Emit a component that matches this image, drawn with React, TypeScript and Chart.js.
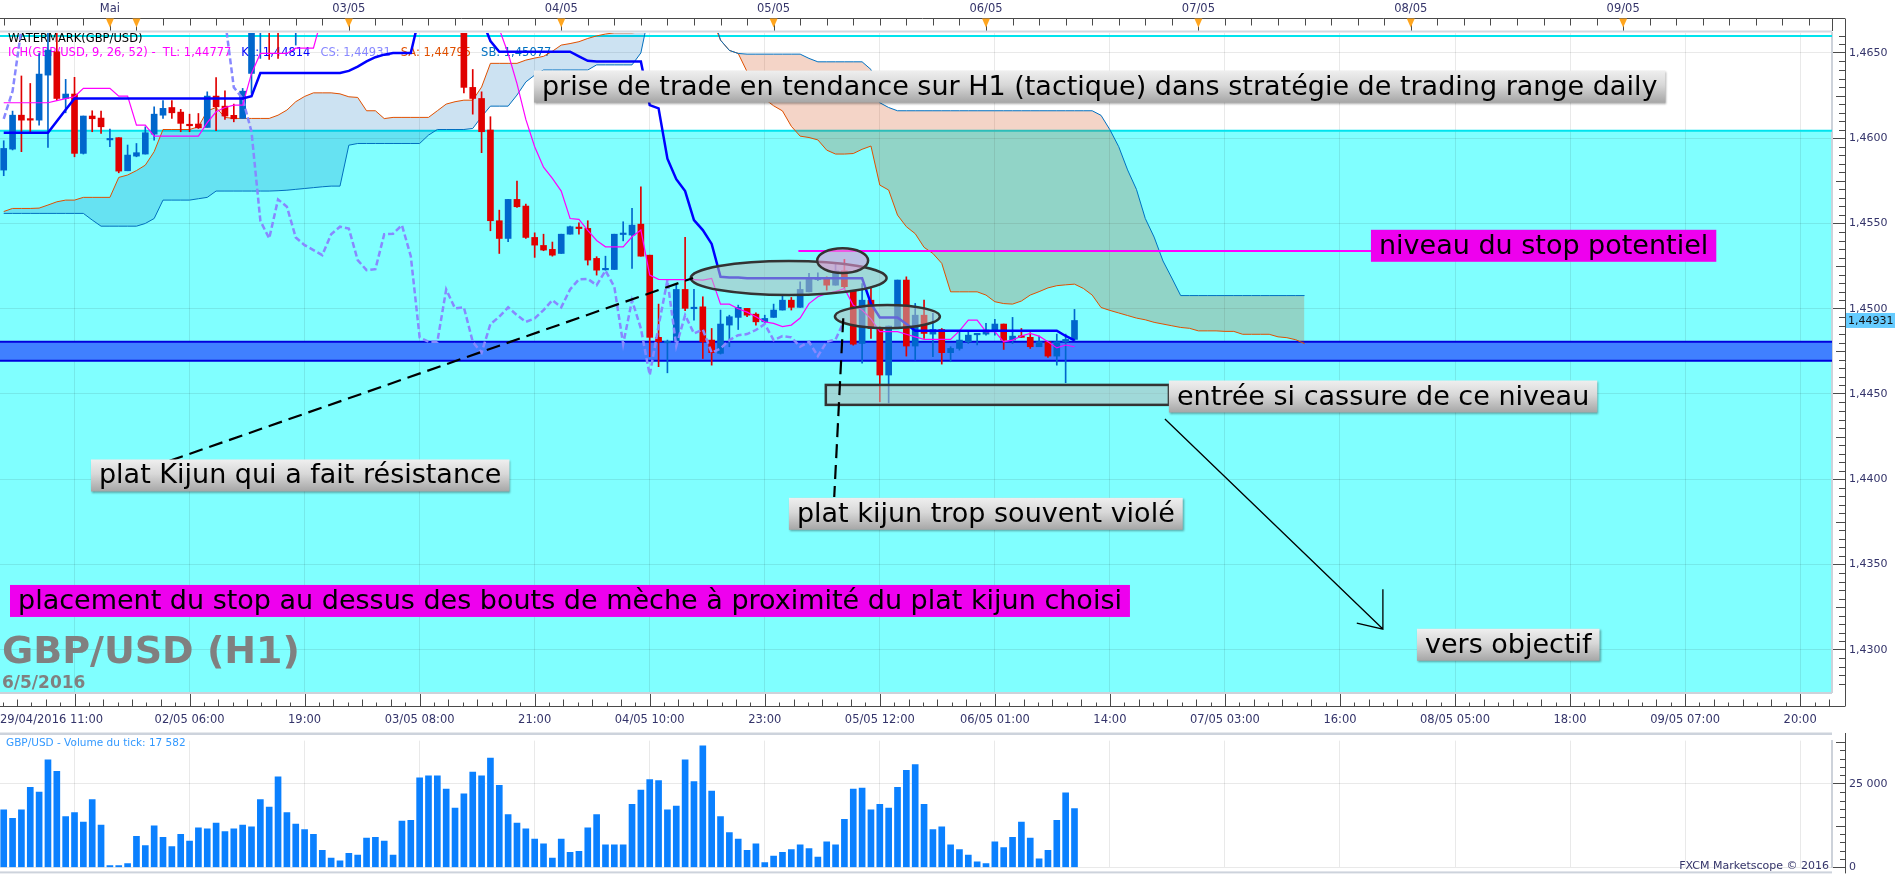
import React, { useEffect, useRef } from "react";
import { Chart, registerables } from "chart.js";

Chart.register(...registerables);

// ---------------- DATA (hourly candles, index 0 = first visible candle) ----------------
const candleOpen = [
  1.45813, 1.45936, 1.46135, 1.46110, 1.46106, 1.46370, 1.46507, 1.46233, 1.46259, 1.45911,
  1.46130, 1.46118, 1.45990, 1.46003, 1.45809, 1.45895, 1.45907, 1.46024, 1.46135, 1.46180,
  1.46153, 1.46077, 1.46083, 1.46063, 1.46247, 1.46188, 1.46134, 1.46116, 1.46380, 1.46640,
  1.46740, 1.46690, 1.46670, 1.46720, 1.46800, 1.46850, 1.46820, 1.46900, 1.46880, 1.46950,
  1.46920, 1.46980, 1.46940, 1.46900, 1.46960, 1.46920, 1.46870, 1.46900, 1.46850, 1.46820,
  1.46790, 1.46760, 1.46700, 1.46298, 1.46233, 1.46048, 1.45516, 1.45412, 1.45641, 1.45602,
  1.45418, 1.45371, 1.45348, 1.45324, 1.45437, 1.45473, 1.45471, 1.45295, 1.45228, 1.45230,
  1.45435, 1.45432, 1.45496, 1.45314, 1.44832, 1.44800, 1.44812, 1.45113, 1.45000, 1.45011,
  1.44816, 1.44738, 1.44904, 1.44949, 1.45002, 1.44968, 1.44923, 1.44949, 1.44992, 1.45050,
  1.45008, 1.45099, 1.45170, 1.45183, 1.45138, 1.45223, 1.45105, 1.44796, 1.45050, 1.44890,
  1.44611, 1.44890, 1.45168, 1.44781, 1.44962, 1.44851, 1.44878, 1.44742, 1.44767, 1.44806,
  1.44847, 1.44851, 1.44875, 1.44910, 1.44816, 1.44839, 1.44832, 1.44777, 1.44806, 1.44722,
  1.44806, 1.44820,
];
const candleHigh = [
  1.45985, 1.46159, 1.46365, 1.46321, 1.46497, 1.46680, 1.46680, 1.46345, 1.46357, 1.46130,
  1.46161, 1.46159, 1.46053, 1.46003, 1.45960, 1.45969, 1.46067, 1.46184, 1.46220, 1.46220,
  1.46169, 1.46141, 1.46145, 1.46272, 1.46356, 1.46278, 1.46200, 1.46292, 1.46700, 1.46780,
  1.46800, 1.46760, 1.46780, 1.46850, 1.46900, 1.46920, 1.46950, 1.46960, 1.47000, 1.47020,
  1.47050, 1.47030, 1.46980, 1.47000, 1.47010, 1.46950, 1.46940, 1.46930, 1.46880, 1.46860,
  1.46830, 1.46800, 1.46720, 1.46403, 1.46272, 1.46126, 1.45578, 1.45641, 1.45748, 1.45613,
  1.45445, 1.45437, 1.45391, 1.45437, 1.45484, 1.45504, 1.45516, 1.45305, 1.45308, 1.45437,
  1.45510, 1.45588, 1.45715, 1.45314, 1.45027, 1.44816, 1.45144, 1.45418, 1.45113, 1.45070,
  1.44884, 1.44992, 1.44962, 1.45021, 1.45002, 1.44976, 1.44962, 1.45027, 1.45080, 1.45066,
  1.45158, 1.45207, 1.45211, 1.45187, 1.45266, 1.45289, 1.45105, 1.45148, 1.45129, 1.44894,
  1.44898, 1.45168, 1.45187, 1.45031, 1.45050, 1.44973, 1.44884, 1.44777, 1.44865, 1.44865,
  1.44855, 1.44914, 1.44937, 1.44910, 1.44949, 1.44884, 1.44859, 1.44839, 1.44806, 1.44851,
  1.44851, 1.44996,
];
const candleLow = [
  1.45780, 1.45931, 1.45921, 1.46038, 1.46077, 1.45946, 1.46220, 1.46149, 1.45891, 1.45907,
  1.46038, 1.46028, 1.45950, 1.45797, 1.45809, 1.45891, 1.45907, 1.45989, 1.46116, 1.46116,
  1.46038, 1.46038, 1.46057, 1.46063, 1.46044, 1.46110, 1.46096, 1.46116, 1.46263, 1.46468,
  1.46462, 1.46468, 1.46640, 1.46546, 1.46760, 1.46780, 1.46800, 1.46840, 1.46850, 1.46890,
  1.46900, 1.46900, 1.46850, 1.46870, 1.46880, 1.46830, 1.46840, 1.46800, 1.46780, 1.46750,
  1.46720, 1.46660, 1.46266, 1.46141, 1.45915, 1.45457, 1.45324, 1.45393, 1.45594, 1.45412,
  1.45301, 1.45340, 1.45308, 1.45324, 1.45437, 1.45437, 1.45256, 1.45197, 1.45226, 1.45230,
  1.45398, 1.45236, 1.45308, 1.44718, 1.44660, 1.44624, 1.44806, 1.44988, 1.44933, 1.44708,
  1.44669, 1.44734, 1.44777, 1.44878, 1.44953, 1.44904, 1.44913, 1.44949, 1.44992, 1.44992,
  1.45008, 1.45099, 1.45164, 1.45109, 1.45138, 1.45119, 1.44786, 1.44680, 1.44826, 1.44454,
  1.44448, 1.44890, 1.44722, 1.44699, 1.44826, 1.44718, 1.44675, 1.44689, 1.44757, 1.44796,
  1.44787, 1.44845, 1.44845, 1.44761, 1.44796, 1.44832, 1.44767, 1.44777, 1.44714, 1.44669,
  1.44566, 1.44812,
];
const candleClose = [
  1.45940, 1.46135, 1.46106, 1.46106, 1.46376, 1.46517, 1.46233, 1.46259, 1.45911, 1.46130,
  1.46114, 1.46067, 1.45997, 1.45807, 1.45901, 1.45915, 1.46032, 1.46141, 1.46175, 1.46149,
  1.46087, 1.46073, 1.46061, 1.46247, 1.46184, 1.46130, 1.46114, 1.46276, 1.46640, 1.46740,
  1.46690, 1.46670, 1.46720, 1.46800, 1.46850, 1.46820, 1.46900, 1.46880, 1.46950, 1.46920,
  1.46980, 1.46940, 1.46900, 1.46960, 1.46920, 1.46870, 1.46900, 1.46850, 1.46820, 1.46790,
  1.46760, 1.46700, 1.46298, 1.46233, 1.46038, 1.45516, 1.45412, 1.45641, 1.45598, 1.45418,
  1.45373, 1.45344, 1.45314, 1.45437, 1.45481, 1.45470, 1.45285, 1.45226, 1.45232, 1.45437,
  1.45440, 1.45490, 1.45308, 1.44832, 1.44806, 1.44806, 1.45113, 1.45002, 1.45008, 1.44806,
  1.44742, 1.44910, 1.44953, 1.45008, 1.44962, 1.44923, 1.44943, 1.44992, 1.45050, 1.45008,
  1.45113, 1.45172, 1.45175, 1.45138, 1.45223, 1.45129, 1.44792, 1.45050, 1.44884, 1.44611,
  1.44898, 1.45168, 1.44781, 1.44962, 1.44855, 1.44878, 1.44742, 1.44767, 1.44816, 1.44845,
  1.44851, 1.44875, 1.44910, 1.44816, 1.44839, 1.44832, 1.44777, 1.44806, 1.44722, 1.44806,
  1.44820, 1.44931,
];
const tickVolume = [
  17200, 14660, 17200, 23970, 22560, 32150, 28760, 15230, 16360, 13540,
  20300, 12690, 560, 560, 1130, 9300, 6490, 12410, 9020, 6200,
  9870, 7900, 11840, 11560, 13250, 10720, 11560, 12690, 12130, 20300,
  18050, 27070, 16360, 12970, 11280, 9870, 5080, 2820, 1970, 4230,
  3670, 8740, 9020, 7900, 3670, 13820, 14100, 26790, 27350, 27350,
  23400, 17770, 22000, 28480, 27350, 32710, 24530, 15790, 13250, 11560,
  8460, 7050, 2820, 8460, 4510, 4790, 11840, 15790, 6770, 6770,
  6770, 18890, 23120, 26230, 25940, 17200, 18330, 32150, 25660, 36380,
  22840, 15230, 10430, 8460, 5080, 7050, 1410, 3380, 4510, 5360,
  6770, 5640, 3100, 7610, 6770, 14380, 23400, 23690, 17200, 18890,
  17770, 23970, 29050, 30740, 18890, 11280, 12130, 6770, 5360, 3670,
  1690, 1130, 7610, 5920, 9020, 13540, 8740, 2540, 5080, 14100,
  22280, 17582,
];
const tenkanSen = [
  1.46208, 1.46208, 1.46208, 1.46208, 1.46208, 1.46208, 1.46220, 1.46232, 1.46243, 1.46292,
  1.46292, 1.46292, 1.46292, 1.46247, 1.46247, 1.46077, 1.46077, 1.46012, 1.46012, 1.46012,
  1.46012, 1.46012, 1.46012, 1.46091, 1.46155, 1.46180, 1.46194, 1.46194, 1.46380, 1.46497,
  1.46497, 1.46497, 1.46497, 1.46528, 1.46528, 1.46528, 1.46720, 1.46720, 1.46720, 1.46720,
  1.46720, 1.46720, 1.46720, 1.46720, 1.46720, 1.46720, 1.46720, 1.46720, 1.46720, 1.46720,
  1.46720, 1.46720, 1.46720, 1.46720, 1.46720, 1.46720, 1.46640, 1.46497, 1.46320, 1.46110,
  1.45950, 1.45830, 1.45764, 1.45690, 1.45529, 1.45524, 1.45460, 1.45400, 1.45363, 1.45363,
  1.45363, 1.45422, 1.45461, 1.45197, 1.45172, 1.45170, 1.45170, 1.45170, 1.45170, 1.45168,
  1.45178, 1.45027, 1.45027, 1.45000, 1.44980, 1.44953, 1.44923, 1.44914, 1.44895, 1.44904,
  1.44945, 1.45030, 1.45070, 1.45090, 1.45100, 1.45119, 1.45020, 1.44992, 1.44940, 1.44865,
  1.44865, 1.44865, 1.44850, 1.44835, 1.44820, 1.44820, 1.44820, 1.44820, 1.44870, 1.44933,
  1.44933, 1.44865, 1.44865, 1.44806, 1.44816, 1.44840, 1.44855, 1.44839, 1.44806, 1.44770,
  1.44787, 1.44777,
];
const kijunSen = [
  1.46032, 1.46032, 1.46032, 1.46032, 1.46032, 1.46032, 1.46100, 1.46167, 1.46233, 1.46233,
  1.46233, 1.46233, 1.46233, 1.46233, 1.46233, 1.46233, 1.46233, 1.46233, 1.46233, 1.46233,
  1.46233, 1.46233, 1.46233, 1.46233, 1.46233, 1.46233, 1.46233, 1.46233, 1.46247, 1.46382,
  1.46382, 1.46382, 1.46382, 1.46382, 1.46382, 1.46382, 1.46382, 1.46382, 1.46382, 1.46395,
  1.46420, 1.46450, 1.46475, 1.46490, 1.46499, 1.46499, 1.46499, 1.46720, 1.46720, 1.46720,
  1.46720, 1.46720, 1.46720, 1.46720, 1.46700, 1.46570, 1.46507, 1.46507, 1.46507, 1.46507,
  1.46507, 1.46507, 1.46507, 1.46507, 1.46507, 1.46480, 1.46454, 1.46450, 1.46450, 1.46450,
  1.46450, 1.46450, 1.46450, 1.46194, 1.46175, 1.45880, 1.45760, 1.45690, 1.45520, 1.45461,
  1.45380, 1.45187, 1.45183, 1.45183, 1.45178, 1.45178, 1.45178, 1.45178, 1.45178, 1.45178,
  1.45178, 1.45178, 1.45178, 1.45178, 1.45178, 1.45178, 1.45178, 1.45178, 1.45030, 1.44949,
  1.44949, 1.44949, 1.44910, 1.44871, 1.44871, 1.44871, 1.44871, 1.44871, 1.44871, 1.44871,
  1.44871, 1.44871, 1.44871, 1.44871, 1.44871, 1.44871, 1.44871, 1.44871, 1.44871, 1.44871,
  1.44840, 1.44814,
];
const senkouA = [
  1.45570, 1.45588, 1.45588, 1.45588, 1.45590, 1.45608, 1.45627, 1.45637, 1.45637, 1.45653,
  1.45653, 1.45653, 1.45653, 1.45770, 1.45784, 1.45810, 1.45842, 1.45921, 1.46051, 1.46051,
  1.46051, 1.46051, 1.46067, 1.46160, 1.46180, 1.46122, 1.46116, 1.46116, 1.46116, 1.46116,
  1.46116, 1.46135, 1.46165, 1.46214, 1.46245, 1.46266, 1.46266, 1.46266, 1.46260, 1.46243,
  1.46239, 1.46161, 1.46161, 1.46115, 1.46122, 1.46122, 1.46122, 1.46122, 1.46122, 1.46161,
  1.46200, 1.46214, 1.46223, 1.46223, 1.46300, 1.46439, 1.46439, 1.46439, 1.46439, 1.46458,
  1.46470, 1.46480, 1.46510, 1.46546, 1.46555, 1.46566, 1.46585, 1.46600, 1.46611, 1.46618,
  1.46618, 1.46618, 1.46624, 1.46700, 1.46750, 1.46750, 1.46750, 1.46750, 1.46750, 1.46750,
  1.46700, 1.46575, 1.46515, 1.46497, 1.46390, 1.46310, 1.46230, 1.46190, 1.46160, 1.46070,
  1.46012, 1.46004, 1.45990, 1.45930, 1.45907, 1.45907, 1.45910, 1.45935, 1.45954, 1.45725,
  1.45696, 1.45549, 1.45481, 1.45440, 1.45360, 1.45324, 1.45266, 1.45099, 1.45099, 1.45099,
  1.45099, 1.45080, 1.45041, 1.45030, 1.45027, 1.45045, 1.45080, 1.45100, 1.45122, 1.45135,
  1.45140, 1.45144, 1.45119, 1.45080, 1.45007, 1.44990, 1.44975, 1.44960, 1.44945, 1.44935,
  1.44920, 1.44910, 1.44900, 1.44890, 1.44885, 1.44870, 1.44870, 1.44870, 1.44867, 1.44867,
  1.44850, 1.44850, 1.44850, 1.44850, 1.44835, 1.44830, 1.44818, 1.44795,
];
const senkouB = [
  1.45559, 1.45559, 1.45559, 1.45559, 1.45559, 1.45559, 1.45559, 1.45559, 1.45559, 1.45559,
  1.45520, 1.45484, 1.45484, 1.45484, 1.45484, 1.45484, 1.45500, 1.45529, 1.45637, 1.45637,
  1.45637, 1.45637, 1.45645, 1.45653, 1.45690, 1.45690, 1.45690, 1.45690, 1.45690, 1.45690,
  1.45690, 1.45692, 1.45695, 1.45700, 1.45705, 1.45710, 1.45715, 1.45719, 1.45719, 1.45959,
  1.45969, 1.45969, 1.45969, 1.45969, 1.45969, 1.45969, 1.45969, 1.45969, 1.46018, 1.46051,
  1.46051, 1.46051, 1.46051, 1.46057, 1.46126, 1.46188, 1.46188, 1.46188, 1.46253, 1.46330,
  1.46370, 1.46400, 1.46400, 1.46400, 1.46400, 1.46400, 1.46400, 1.46430, 1.46430, 1.46430,
  1.46430, 1.46430, 1.46500, 1.46750, 1.46750, 1.46750, 1.46750, 1.46750, 1.46750, 1.46750,
  1.46750, 1.46575, 1.46515, 1.46497, 1.46493, 1.46493, 1.46493, 1.46493, 1.46493, 1.46493,
  1.46493, 1.46468, 1.46448, 1.46448, 1.46448, 1.46448, 1.46448, 1.46448, 1.46403, 1.46208,
  1.46180, 1.46161, 1.46161, 1.46161, 1.46161, 1.46161, 1.46161, 1.46161, 1.46161, 1.46161,
  1.46161, 1.46161, 1.46161, 1.46161, 1.46161, 1.46161, 1.46161, 1.46161, 1.46161, 1.46161,
  1.46161, 1.46161, 1.46161, 1.46161, 1.46134, 1.46050, 1.45950, 1.45814, 1.45700, 1.45529,
  1.45420, 1.45280, 1.45180, 1.45077, 1.45077, 1.45077, 1.45077, 1.45077, 1.45077, 1.45077,
  1.45077, 1.45077, 1.45077, 1.45077, 1.45077, 1.45077, 1.45077, 1.45077,
];
const CHIKOU_SHIFT = 26;

// axis ticks / labels
const priceTicks = [1.43, 1.435, 1.44, 1.445, 1.45, 1.455, 1.46, 1.465];
const volumeTicks = [0, 25000];
const bottomTickIdx = [8, 21, 34, 47, 60, 73, 86, 99, 112, 125, 138, 151, 164, 177, 190, 203];
const bottomTickLabels = [
  "29/04/2016 11:00", "02/05 06:00", "19:00", "03/05 08:00", "21:00", "04/05 10:00", "23:00",
  "05/05 12:00", "06/05 01:00", "14:00", "07/05 03:00", "16:00", "08/05 05:00", "18:00",
  "09/05 07:00", "20:00",
];
const dayIdx = [12, 15, 39, 63, 87, 111, 135, 159, 183];
const dayLabels = ["Mai", "", "03/05", "04/05", "05/05", "06/05", "07/05", "08/05", "09/05"];

// price levels drawn on the chart
const zoneLine = 1.466;
const zoneTop = 1.46044;
const bandHigh = 1.44806;
const bandLow = 1.44695;
const stopLevel = 1.45338;

// ---------------- annotations (data coordinates) ----------------
const textBoxes = [
  { text: "prise de trade en tendance sur H1 (tactique) dans stratégie de trading range daily", i: 59.92, p: 1.46303, kind: "gray" },
  { text: "niveau du stop potentiel", i: 154.5, p: 1.45369, kind: "magenta" },
  { text: "entrée si cassure de ce niveau", i: 131.67, p: 1.44485, kind: "gray" },
  { text: "plat Kijun qui a fait résistance", i: 9.86, p: 1.44022, kind: "gray" },
  { text: "plat kijun trop souvent violé", i: 88.73, p: 1.43797, kind: "gray" },
  { text: "placement du stop au dessus des bouts de mèche à proximité du plat kijun choisi", i: 0.71, p: 1.43286, kind: "magenta" },
  { text: "vers objectif", i: 159.7, p: 1.43029, kind: "gray" },
];
const ellipses = [
  { i: 88.7, p: 1.4518, ri: 11.07, rp: 0.001, fill: "rgba(185,185,185,0.55)" },
  { i: 99.86, p: 1.44954, ri: 5.93, rp: 0.00068, fill: "rgba(185,185,185,0.55)" },
  { i: 94.8, p: 1.45282, ri: 2.88, rp: 0.00073, fill: "rgba(225,150,210,0.6)" },
];
const entryRect = { i0: 92.9, i1: 131.67, p0: 1.44553, p1: 1.44436 };
const stopLine = { i0: 89.8, i1: 154.5 };
const dashedLines = [
  { i0: 16.5, p0: 1.44067, i1: 77.9, p1: 1.4518 },
  { i0: 94.87, p0: 1.44944, i1: 93.85, p1: 1.43896 },
];
const arrow = { i0: 131.22, p0: 1.44353, i1: 155.85, p1: 1.43121, hu: 1.43355, hli: 152.9, hlp: 1.43156 };

// ---------------- layout ----------------
const W = 1903;
const PRICE_H = 730;
const VOL_H = 148;
const PLOT_RIGHT = 1832;
const AXIS_X = 1845;
const PLOT_TOP = 33;
const PLOT_BOTTOM = 692;
const RULER_Y = 18.5;
const BOTTOM_RULER_Y = 706.5;
const X_MIN = -0.42;
const X_MAX = 206.6;
const Y_MIN = 1.42752;
const Y_MAX = 1.46617;
const VOL_TOP = 6;
const VOL_BOTTOM = 141;
const VOL_MAX = 37921;

const FONT = '"DejaVu Sans", Verdana, sans-serif';
const AXIS_TEXT = "#34346A";
const GRID = "rgba(0,0,0,0.085)";
const RULER = "#4A4A4A";

Chart.defaults.font.family = FONT;

function fmtComma(v: number, d: number) {
  return v.toFixed(d).replace(".", ",");
}
function fmtThousands(v: number) {
  return Math.round(v).toString().replace(/\B(?=(\d{3})+(?!\d))/g, " ");
}
function vline(ctx: any, x: number, y0: number, y1: number) {
  ctx.beginPath();
  ctx.moveTo(x, y0);
  ctx.lineTo(x, y1);
  ctx.stroke();
}
function hline(ctx: any, y: number, x0: number, x1: number) {
  ctx.beginPath();
  ctx.moveTo(x0, y);
  ctx.lineTo(x1, y);
  ctx.stroke();
}

const pricePlugin = {
  id: "priceDecor",
  beforeDraw(chart: any) {
    const { ctx, chartArea: a } = chart;
    const ys = chart.scales.y;
    ctx.save();
    ctx.fillStyle = "#FFFFFF";
    ctx.fillRect(0, 0, chart.width, chart.height);
    const yz = ys.getPixelForValue(zoneTop);
    ctx.fillStyle = "#80FFFF";
    ctx.fillRect(a.left, yz, a.right - a.left, a.bottom - yz);
    ctx.restore();
  },
  beforeDatasetsDraw(chart: any) {
    const { ctx, chartArea: a } = chart;
    const ys = chart.scales.y;
    ctx.save();
    ctx.beginPath();
    ctx.rect(a.left, a.top, a.right - a.left, a.bottom - a.top);
    ctx.clip();
    // blue support band
    const yb1 = ys.getPixelForValue(bandHigh);
    const yb2 = ys.getPixelForValue(bandLow);
    ctx.fillStyle = "#4080FF";
    ctx.fillRect(a.left, yb1, a.right - a.left, yb2 - yb1);
    ctx.strokeStyle = "#0000DD";
    ctx.lineWidth = 2;
    hline(ctx, yb1, a.left, a.right);
    hline(ctx, yb2, a.left, a.right);
    // cyan zone lines
    ctx.strokeStyle = "#00E3EE";
    ctx.lineWidth = 2;
    hline(ctx, ys.getPixelForValue(zoneLine), a.left, a.right);
    hline(ctx, ys.getPixelForValue(zoneTop), a.left, a.right);
    // legend
    ctx.font = `11.5px ${FONT}`;
    ctx.textBaseline = "middle";
    ctx.textAlign = "left";
    ctx.fillStyle = "#000";
    ctx.fillText("WATERMARK(GBP/USD)", 8, a.top + 6.5);
    const n = candleClose.length;
    const segs = [
      ["ICH(GBP/USD, 9, 26, 52) -  TL: " + fmtComma(tenkanSen[n - 1], 5), "#FF00FF"],
      ["KL: " + fmtComma(kijunSen[n - 1], 5), "#0000FF"],
      ["CS: " + fmtComma(candleClose[n - 1], 5), "#8888FF"],
      ["SA: " + fmtComma(senkouA[senkouA.length - 1], 5), "#E05000"],
      ["SB: " + fmtComma(senkouB[senkouB.length - 1], 5), "#0070C0"],
    ];
    let x = 8;
    for (const [t, c] of segs) {
      ctx.fillStyle = c;
      ctx.fillText(t, x, a.top + 19.7);
      x += ctx.measureText(t).width + 10;
    }
    ctx.restore();
  },
  afterDatasetsDraw(chart: any) {
    const { ctx, chartArea: a } = chart;
    const xs = chart.scales.x;
    const ys = chart.scales.y;
    const px = (i: number) => xs.getPixelForValue(i);
    const py = (p: number) => ys.getPixelForValue(p);
    ctx.save();
    ctx.beginPath();
    ctx.rect(a.left, a.top, a.right - a.left, a.bottom - a.top);
    ctx.clip();

    // stop line
    ctx.strokeStyle = "#FF00FF";
    ctx.lineWidth = 2;
    hline(ctx, py(stopLevel), px(stopLine.i0), px(stopLine.i1));

    // entry rectangle
    const rx0 = px(entryRect.i0), rx1 = px(entryRect.i1);
    const ry0 = py(entryRect.p0), ry1 = py(entryRect.p1);
    ctx.fillStyle = "rgba(185,185,185,0.55)";
    ctx.fillRect(rx0, ry0, rx1 - rx0, ry1 - ry0);
    ctx.strokeStyle = "#333";
    ctx.lineWidth = 2.5;
    ctx.strokeRect(rx0, ry0, rx1 - rx0, ry1 - ry0);

    // ellipses
    for (const e of ellipses) {
      const cx = px(e.i), cy = py(e.p);
      const rx = Math.abs(px(e.i + e.ri) - cx);
      const ry = Math.abs(py(e.p + e.rp) - cy);
      ctx.beginPath();
      ctx.ellipse(cx, cy, rx, ry, 0, 0, Math.PI * 2);
      ctx.fillStyle = e.fill;
      ctx.fill();
      ctx.strokeStyle = "#333";
      ctx.lineWidth = 2.5;
      ctx.stroke();
    }

    // dashed lines
    ctx.strokeStyle = "#000";
    ctx.lineWidth = 2.2;
    ctx.setLineDash([14, 7]);
    for (const d of dashedLines) {
      ctx.beginPath();
      ctx.moveTo(px(d.i0), py(d.p0));
      ctx.lineTo(px(d.i1), py(d.p1));
      ctx.stroke();
    }
    ctx.setLineDash([]);

    // arrow
    ctx.lineWidth = 1.3;
    ctx.beginPath();
    ctx.moveTo(px(arrow.i0), py(arrow.p0));
    ctx.lineTo(px(arrow.i1), py(arrow.p1));
    ctx.moveTo(px(arrow.i1), py(arrow.hu));
    ctx.lineTo(px(arrow.i1), py(arrow.p1));
    ctx.lineTo(px(arrow.hli), py(arrow.hlp));
    ctx.stroke();

    // text boxes
    ctx.font = `27px ${FONT}`;
    ctx.textBaseline = "middle";
    ctx.textAlign = "left";
    for (const b of textBoxes) {
      const x = px(b.i);
      const yc = py(b.p);
      const w = ctx.measureText(b.text).width + 16;
      const h = 32;
      const top = yc - h / 2;
      ctx.save();
      if (b.kind === "gray") {
        const g = ctx.createLinearGradient(0, top, 0, top + h);
        g.addColorStop(0, "#EFEFEF");
        g.addColorStop(0.45, "#D8D8D8");
        g.addColorStop(1, "#A6A6A6");
        ctx.fillStyle = g;
        ctx.shadowColor = "rgba(0,0,0,0.35)";
        ctx.shadowOffsetX = 1;
        ctx.shadowOffsetY = 1.5;
        ctx.shadowBlur = 2;
      } else {
        ctx.fillStyle = "#EE00EE";
      }
      ctx.fillRect(x, top, w, h);
      ctx.restore();
      ctx.fillStyle = "#000";
      ctx.fillText(b.text, x + 8, yc + 1);
    }

    // watermark
    ctx.fillStyle = "#808080";
    ctx.font = `bold 38px ${FONT}`;
    ctx.textBaseline = "alphabetic";
    ctx.fillText("GBP/USD (H1)", a.left + 2, a.bottom - 29);
    ctx.font = `bold 17px ${FONT}`;
    ctx.fillText("6/5/2016", a.left + 2, a.bottom - 4);
    ctx.restore();
  },
  afterDraw(chart: any) {
    const { ctx, chartArea: a } = chart;
    const xs = chart.scales.x;
    const ys = chart.scales.y;
    const px = (i: number) => Math.round(xs.getPixelForValue(i)) + 0.5;
    ctx.save();
    // --- top ruler
    ctx.strokeStyle = RULER;
    ctx.lineWidth = 1;
    hline(ctx, RULER_Y, 0, AXIS_X);
    for (let i = 0; i <= X_MAX; i += 3) vline(ctx, px(i), RULER_Y, RULER_Y + 7);
    for (const d of dayIdx) vline(ctx, px(d), RULER_Y, 31);
    vline(ctx, PLOT_RIGHT + 0.5, RULER_Y, 31);
    ctx.fillStyle = "#FFA51E";
    for (const d of dayIdx) {
      const x = xs.getPixelForValue(d);
      ctx.beginPath();
      ctx.moveTo(x - 4, RULER_Y);
      ctx.lineTo(x + 4, RULER_Y);
      ctx.lineTo(x, RULER_Y + 9);
      ctx.closePath();
      ctx.fill();
    }
    ctx.fillStyle = AXIS_TEXT;
    ctx.font = `11.5px ${FONT}`;
    ctx.textAlign = "center";
    ctx.textBaseline = "middle";
    dayIdx.forEach((d, k) => {
      if (dayLabels[k]) ctx.fillText(dayLabels[k], xs.getPixelForValue(d), 9);
    });
    // separator under ruler
    ctx.fillStyle = "#D3D8E1";
    ctx.fillRect(0, 30.5, PLOT_RIGHT, 2);
    // plot bottom border
    ctx.fillStyle = "#CDD2DA";
    ctx.fillRect(0, a.bottom, PLOT_RIGHT, 2);

    // --- right axis line + minor ticks
    ctx.strokeStyle = RULER;
    ctx.lineWidth = 1;
    vline(ctx, AXIS_X + 0.5, RULER_Y, BOTTOM_RULER_Y);
    const m0 = Math.ceil(Y_MIN / 0.0005);
    const m1 = Math.floor(Y_MAX / 0.0005);
    for (let m = m0; m <= m1; m++) {
      const r = ((m % 10) + 10) % 10;
      if (r === 0) continue;
      const y = Math.round(ys.getPixelForValue(m * 0.0005)) + 0.5;
      const len = r === 5 ? 9 : 6;
      hline(ctx, y, AXIS_X - len, AXIS_X);
    }

    // --- bottom ruler
    hline(ctx, BOTTOM_RULER_Y, 0, AXIS_X);
    for (const t of bottomTickIdx) vline(ctx, px(t), a.bottom + 2, BOTTOM_RULER_Y);
    const step = 13 / 8;
    for (let k = -6; k <= 8 * 16 + 4; k++) {
      const r = ((k % 8) + 8) % 8;
      if (r === 0) continue;
      const v = bottomTickIdx[0] + k * step;
      if (v < X_MIN || v > X_MAX) continue;
      const len = r % 2 === 0 ? 7 : 4;
      vline(ctx, px(v), BOTTOM_RULER_Y - len, BOTTOM_RULER_Y);
    }
    ctx.fillStyle = AXIS_TEXT;
    ctx.font = `11.5px ${FONT}`;
    ctx.textAlign = "left";
    ctx.textBaseline = "middle";
    ctx.fillText(bottomTickLabels[0], 0, 720.5);

    // --- last price tag
    const last = candleClose[candleClose.length - 1];
    const yt = ys.getPixelForValue(last);
    ctx.fillStyle = "#66CCFF";
    ctx.fillRect(AXIS_X + 1, yt - 7.5, 49, 15);
    ctx.fillStyle = "#111";
    ctx.font = `11px ${FONT}`;
    ctx.fillText(fmtComma(last, 5), AXIS_X + 3, yt + 0.5);
    ctx.restore();
  },
};

const volumePlugin = {
  id: "volDecor",
  beforeDraw(chart: any) {
    const { ctx } = chart;
    ctx.save();
    ctx.fillStyle = "#FFFFFF";
    ctx.fillRect(0, 0, chart.width, chart.height);
    ctx.restore();
  },
  afterDraw(chart: any) {
    const { ctx, chartArea: a } = chart;
    const ys = chart.scales.y;
    ctx.save();
    ctx.fillStyle = "#CDD3DC";
    ctx.fillRect(0, 2.5, PLOT_RIGHT, 2.5);
    ctx.fillRect(0, a.bottom + 4, PLOT_RIGHT, 2);
    ctx.strokeStyle = RULER;
    ctx.lineWidth = 1;
    vline(ctx, AXIS_X + 0.5, 3, a.bottom + 6);
    for (let m = 1; m * 2500 <= VOL_MAX; m++) {
      if (m === 10) continue;
      const y = Math.round(ys.getPixelForValue(m * 2500)) + 0.5;
      const len = m % 5 === 0 ? 9 : 5;
      hline(ctx, y, AXIS_X - len, AXIS_X);
    }
    ctx.font = `10.5px ${FONT}`;
    ctx.textBaseline = "middle";
    ctx.textAlign = "left";
    ctx.fillStyle = "#3399FF";
    ctx.fillText("GBP/USD - Volume du tick: " + fmtThousands(tickVolume[tickVolume.length - 1]), 6, 13);
    ctx.font = `11px ${FONT}`;
    ctx.fillStyle = AXIS_TEXT;
    ctx.textAlign = "right";
    ctx.fillText("FXCM Marketscope © 2016", PLOT_RIGHT - 3, a.bottom - 1);
    ctx.restore();
  },
};

function buildPriceChart(canvas: HTMLCanvasElement) {
  const idx = candleOpen.map((_, i) => i);
  const colors = idx.map((i) => (candleClose[i] >= candleOpen[i] ? "#0066CC" : "#E00000"));
  const chikou = idx
    .filter((i) => i + CHIKOU_SHIFT < candleClose.length)
    .map((i) => ({ x: i, y: candleClose[i + CHIKOU_SHIFT] }));
  const datasets: any[] = [
    {
      type: "line",
      label: "SSB",
      data: senkouB.map((v, i) => ({ x: i, y: v })),
      borderColor: "#0070C0",
      borderWidth: 1,
      pointRadius: 0,
      fill: false,
      order: 9,
    },
    {
      type: "line",
      label: "SSA",
      data: senkouA.map((v, i) => ({ x: i, y: v })),
      borderColor: "#E05000",
      borderWidth: 1,
      pointRadius: 0,
      fill: { target: 0, above: "rgba(0,112,192,0.2)", below: "rgba(206,60,0,0.22)" },
      order: 10,
    },
    {
      type: "bar",
      label: "wick",
      data: idx.map((i) => ({ x: i, y: [candleLow[i], candleHigh[i]] })),
      backgroundColor: colors,
      barThickness: 1,
      grouped: false,
      borderWidth: 0,
      clip: 0,
      order: 7,
    },
    {
      type: "bar",
      label: "body",
      data: idx.map((i) => ({ x: i, y: [candleOpen[i], candleClose[i]] })),
      backgroundColor: colors,
      barThickness: 6,
      grouped: false,
      borderWidth: 0,
      minBarLength: 1.5,
      clip: 0,
      order: 6,
    },
    {
      type: "line",
      label: "Chikou",
      data: chikou,
      borderColor: "#8888FF",
      borderWidth: 2.5,
      borderDash: [6, 3],
      pointRadius: 0,
      fill: false,
      order: 4,
    },
    {
      type: "line",
      label: "Tenkan",
      data: tenkanSen.map((v, i) => ({ x: i, y: v })),
      borderColor: "#FF00FF",
      borderWidth: 1.2,
      pointRadius: 0,
      fill: false,
      order: 3,
    },
    {
      type: "line",
      label: "Kijun",
      data: kijunSen.map((v, i) => ({ x: i, y: v })),
      borderColor: "#0000FF",
      borderWidth: 2.5,
      pointRadius: 0,
      fill: false,
      order: 2,
    },
  ];
  return new Chart(canvas, {
    type: "bar",
    data: { datasets },
    plugins: [pricePlugin],
    options: {
      animation: false,
      responsive: false,
      maintainAspectRatio: false,
      devicePixelRatio: 1,
      events: [],
      layout: { padding: { top: PLOT_TOP, left: 0, right: 0, bottom: 0 } },
      plugins: { legend: { display: false }, tooltip: { enabled: false } },
      scales: {
        x: {
          type: "linear",
          min: X_MIN,
          max: X_MAX,
          offset: false,
          afterFit: (s: any) => {
            s.height = PRICE_H - PLOT_BOTTOM;
          },
          afterBuildTicks: (s: any) => {
            s.ticks = bottomTickIdx.map((v) => ({ value: v }));
          },
          ticks: {
            autoSkip: false,
            maxRotation: 0,
            minRotation: 0,
            padding: 21,
            color: AXIS_TEXT,
            font: { family: FONT, size: 11.5 },
            callback: (_v: any, k: number) => (k === 0 ? "" : bottomTickLabels[k]),
          },
          grid: { color: GRID, drawTicks: false, offset: false },
          border: { display: false },
        },
        y: {
          type: "linear",
          position: "right",
          min: Y_MIN,
          max: Y_MAX,
          afterFit: (s: any) => {
            s.width = W - PLOT_RIGHT;
          },
          afterBuildTicks: (s: any) => {
            s.ticks = priceTicks.map((v) => ({ value: v }));
          },
          ticks: {
            padding: 4,
            color: AXIS_TEXT,
            font: { family: FONT, size: 11 },
            callback: (v: any) => fmtComma(Number(v), 4),
          },
          grid: { color: GRID, tickLength: 13, tickColor: RULER, drawTicks: true },
          border: { display: true, color: "#CDD2DA", width: 2 },
        },
      },
    } as any,
  } as any);
}

function buildVolumeChart(canvas: HTMLCanvasElement) {
  return new Chart(canvas, {
    type: "bar",
    data: {
      datasets: [
        {
          label: "Volume",
          data: tickVolume.map((v, i) => ({ x: i, y: v })),
          backgroundColor: "#0A80FF",
          barThickness: 6,
          borderWidth: 0,
        },
      ],
    },
    plugins: [volumePlugin],
    options: {
      animation: false,
      responsive: false,
      maintainAspectRatio: false,
      devicePixelRatio: 1,
      events: [],
      layout: { padding: { top: VOL_TOP, left: 0, right: 0, bottom: 0 } },
      plugins: { legend: { display: false }, tooltip: { enabled: false } },
      scales: {
        x: {
          type: "linear",
          min: X_MIN,
          max: X_MAX,
          offset: false,
          afterFit: (s: any) => {
            s.height = VOL_H - VOL_BOTTOM;
          },
          afterBuildTicks: (s: any) => {
            s.ticks = bottomTickIdx.map((v) => ({ value: v }));
          },
          ticks: { display: false },
          grid: { color: GRID, drawTicks: false, offset: false },
          border: { display: false },
        },
        y: {
          type: "linear",
          position: "right",
          min: 0,
          max: VOL_MAX,
          afterFit: (s: any) => {
            s.width = W - PLOT_RIGHT;
          },
          afterBuildTicks: (s: any) => {
            s.ticks = volumeTicks.map((v) => ({ value: v }));
          },
          ticks: {
            padding: 4,
            color: AXIS_TEXT,
            font: { family: FONT, size: 11 },
            callback: (v: any) => fmtThousands(Number(v)),
          },
          grid: { color: GRID, tickLength: 13, tickColor: RULER, drawTicks: true },
          border: { display: true, color: "#CDD2DA", width: 2 },
        },
      },
    } as any,
  } as any);
}

export default function App() {
  const priceRef = useRef<HTMLCanvasElement>(null);
  const volRef = useRef<HTMLCanvasElement>(null);
  useEffect(() => {
    document.body.style.margin = "0";
    const pc = buildPriceChart(priceRef.current as HTMLCanvasElement);
    const vc = buildVolumeChart(volRef.current as HTMLCanvasElement);
    return () => {
      pc.destroy();
      vc.destroy();
    };
  }, []);
  return (
    <div style={{ position: "relative", width: W, height: PRICE_H + VOL_H, overflow: "hidden", background: "#fff" }}>
      <canvas
        ref={priceRef}
        width={W}
        height={PRICE_H}
        style={{ position: "absolute", left: 0, top: 0, width: W, height: PRICE_H, display: "block" }}
      />
      <canvas
        ref={volRef}
        width={W}
        height={VOL_H}
        style={{ position: "absolute", left: 0, top: PRICE_H, width: W, height: VOL_H, display: "block" }}
      />
    </div>
  );
}
